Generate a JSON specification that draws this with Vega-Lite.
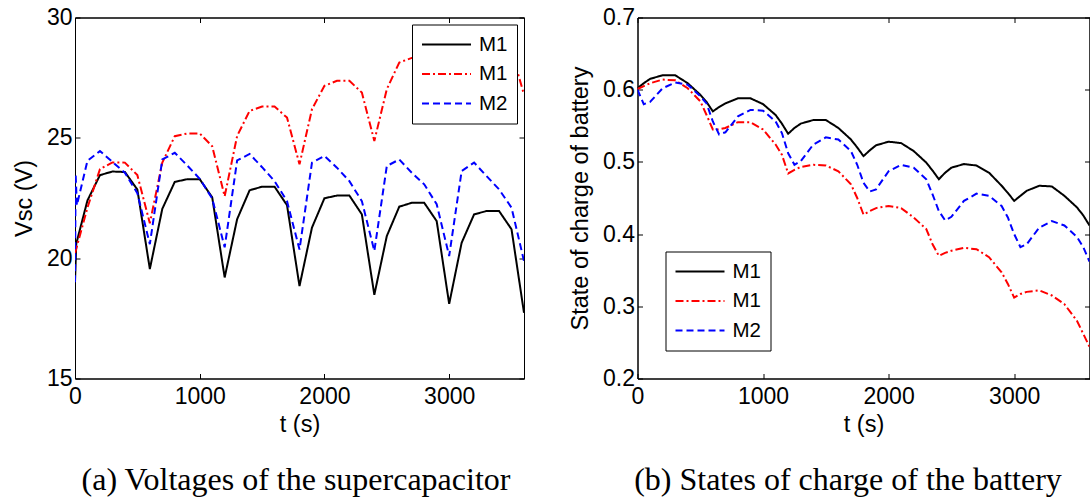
{
  "$schema": "https://vega.github.io/schema/vega-lite/v6.json",
  "background": "white",
  "padding": {"left": 11, "top": 5.5, "right": 0, "bottom": 0},
  "spacing": 42.5,
  "config": {
    "font": "Liberation Sans",
    "view": {"stroke": "black", "strokeWidth": 1},
    "axis": {
      "grid": false,
      "domainColor": "black",
      "tickColor": "black",
      "labelColor": "black",
      "titleColor": "black",
      "labelFont": "Liberation Sans",
      "titleFont": "Liberation Sans",
      "labelFontSize": 23,
      "titleFontSize": 23.5,
      "titleFontWeight": "normal",
      "tickSize": -5,
      "labelFlush": false,
      "labelOverlap": false
    },
    "axisX": {"labelPadding": 12, "titlePadding": 4},
    "axisY": {"labelPadding": 8, "titlePadding": 10},
    "legend": {
      "fillColor": "white",
      "strokeColor": "black",
      "padding": 9,
      "symbolType": "M-1,0H3.9",
      "symbolSize": 400,
      "symbolStrokeWidth": 2,
      "labelFont": "Liberation Sans",
      "labelFontSize": 20.5,
      "labelColor": "black",
      "labelOffset": 36,
      "rowPadding": 7.5,
      "cornerRadius": 0
    }
  },
  "datasets": {
    "vsc": [
      {"t":0,"s":"M1a","v":19.0},{"t":10,"s":"M1a","v":20.6},{"t":100,"s":"M1a","v":22.4},{"t":200,"s":"M1a","v":23.45},{"t":300,"s":"M1a","v":23.6},{"t":400,"s":"M1a","v":23.58},{"t":500,"s":"M1a","v":22.85},{"t":600,"s":"M1a","v":19.55},{"t":700,"s":"M1a","v":22.05},{"t":800,"s":"M1a","v":23.17},{"t":900,"s":"M1a","v":23.28},{"t":1000,"s":"M1a","v":23.28},{"t":1100,"s":"M1a","v":22.53},{"t":1200,"s":"M1a","v":19.2},{"t":1300,"s":"M1a","v":21.62},{"t":1400,"s":"M1a","v":22.82},{"t":1500,"s":"M1a","v":22.97},{"t":1600,"s":"M1a","v":22.97},{"t":1700,"s":"M1a","v":22.2},{"t":1800,"s":"M1a","v":18.84},{"t":1900,"s":"M1a","v":21.27},{"t":2000,"s":"M1a","v":22.49},{"t":2100,"s":"M1a","v":22.6},{"t":2200,"s":"M1a","v":22.6},{"t":2300,"s":"M1a","v":21.82},{"t":2400,"s":"M1a","v":18.48},{"t":2500,"s":"M1a","v":20.92},{"t":2600,"s":"M1a","v":22.14},{"t":2700,"s":"M1a","v":22.3},{"t":2800,"s":"M1a","v":22.3},{"t":2900,"s":"M1a","v":21.54},{"t":3000,"s":"M1a","v":18.1},{"t":3100,"s":"M1a","v":20.64},{"t":3200,"s":"M1a","v":21.82},{"t":3300,"s":"M1a","v":21.96},{"t":3400,"s":"M1a","v":21.96},{"t":3500,"s":"M1a","v":21.2},{"t":3600,"s":"M1a","v":17.73},
      {"t":0,"s":"M1b","v":20.2},{"t":100,"s":"M1b","v":22.1},{"t":200,"s":"M1b","v":23.7},{"t":300,"s":"M1b","v":23.98},{"t":400,"s":"M1b","v":23.97},{"t":500,"s":"M1b","v":23.45},{"t":600,"s":"M1b","v":21.45},{"t":700,"s":"M1b","v":23.97},{"t":800,"s":"M1b","v":25.07},{"t":900,"s":"M1b","v":25.18},{"t":1000,"s":"M1b","v":25.18},{"t":1100,"s":"M1b","v":24.65},{"t":1200,"s":"M1b","v":22.57},{"t":1300,"s":"M1b","v":25.08},{"t":1400,"s":"M1b","v":26.12},{"t":1500,"s":"M1b","v":26.3},{"t":1600,"s":"M1b","v":26.3},{"t":1700,"s":"M1b","v":25.84},{"t":1800,"s":"M1b","v":23.9},{"t":1900,"s":"M1b","v":26.19},{"t":2000,"s":"M1b","v":27.16},{"t":2100,"s":"M1b","v":27.37},{"t":2200,"s":"M1b","v":27.37},{"t":2300,"s":"M1b","v":26.88},{"t":2400,"s":"M1b","v":24.87},{"t":2500,"s":"M1b","v":27.02},{"t":2600,"s":"M1b","v":28.13},{"t":2700,"s":"M1b","v":28.32},{"t":2800,"s":"M1b","v":28.35},{"t":2900,"s":"M1b","v":27.9},{"t":3000,"s":"M1b","v":25.9},{"t":3100,"s":"M1b","v":28.0},{"t":3200,"s":"M1b","v":29.1},{"t":3300,"s":"M1b","v":29.3},{"t":3400,"s":"M1b","v":29.3},{"t":3500,"s":"M1b","v":28.6},{"t":3600,"s":"M1b","v":26.8},
      {"t":0,"s":"M2","v":19.0},{"t":5,"s":"M2","v":23.5},{"t":15,"s":"M2","v":22.2},{"t":100,"s":"M2","v":24.05},{"t":200,"s":"M2","v":24.45},{"t":300,"s":"M2","v":24.0},{"t":400,"s":"M2","v":23.55},{"t":500,"s":"M2","v":22.7},{"t":600,"s":"M2","v":20.58},{"t":700,"s":"M2","v":24.1},{"t":800,"s":"M2","v":24.38},{"t":900,"s":"M2","v":23.85},{"t":1000,"s":"M2","v":23.3},{"t":1100,"s":"M2","v":22.48},{"t":1200,"s":"M2","v":20.45},{"t":1300,"s":"M2","v":24.06},{"t":1400,"s":"M2","v":24.33},{"t":1500,"s":"M2","v":23.78},{"t":1600,"s":"M2","v":23.2},{"t":1700,"s":"M2","v":22.37},{"t":1800,"s":"M2","v":20.36},{"t":1900,"s":"M2","v":23.97},{"t":2000,"s":"M2","v":24.25},{"t":2100,"s":"M2","v":23.76},{"t":2200,"s":"M2","v":23.2},{"t":2300,"s":"M2","v":22.37},{"t":2400,"s":"M2","v":20.3},{"t":2500,"s":"M2","v":23.83},{"t":2600,"s":"M2","v":24.1},{"t":2700,"s":"M2","v":23.55},{"t":2800,"s":"M2","v":23.07},{"t":2900,"s":"M2","v":22.24},{"t":3000,"s":"M2","v":20.09},{"t":3100,"s":"M2","v":23.62},{"t":3200,"s":"M2","v":23.97},{"t":3300,"s":"M2","v":23.41},{"t":3400,"s":"M2","v":22.86},{"t":3500,"s":"M2","v":22.1},{"t":3600,"s":"M2","v":19.88}
    ],
    "soc": [
      {"t":0,"s":"M1a","v":0.602},{"t":50,"s":"M1a","v":0.609},{"t":100,"s":"M1a","v":0.615},{"t":200,"s":"M1a","v":0.62},{"t":300,"s":"M1a","v":0.62},{"t":400,"s":"M1a","v":0.609},{"t":500,"s":"M1a","v":0.593},{"t":550,"s":"M1a","v":0.583},{"t":600,"s":"M1a","v":0.57},{"t":650,"s":"M1a","v":0.576},{"t":700,"s":"M1a","v":0.581},{"t":800,"s":"M1a","v":0.588},{"t":900,"s":"M1a","v":0.588},{"t":1000,"s":"M1a","v":0.58},{"t":1100,"s":"M1a","v":0.565},{"t":1150,"s":"M1a","v":0.553},{"t":1200,"s":"M1a","v":0.539},{"t":1250,"s":"M1a","v":0.547},{"t":1300,"s":"M1a","v":0.553},{"t":1400,"s":"M1a","v":0.558},{"t":1500,"s":"M1a","v":0.558},{"t":1600,"s":"M1a","v":0.547},{"t":1700,"s":"M1a","v":0.531},{"t":1750,"s":"M1a","v":0.52},{"t":1800,"s":"M1a","v":0.508},{"t":1850,"s":"M1a","v":0.516},{"t":1900,"s":"M1a","v":0.523},{"t":2000,"s":"M1a","v":0.528},{"t":2100,"s":"M1a","v":0.526},{"t":2200,"s":"M1a","v":0.515},{"t":2300,"s":"M1a","v":0.499},{"t":2350,"s":"M1a","v":0.488},{"t":2400,"s":"M1a","v":0.476},{"t":2450,"s":"M1a","v":0.485},{"t":2500,"s":"M1a","v":0.492},{"t":2600,"s":"M1a","v":0.497},{"t":2700,"s":"M1a","v":0.495},{"t":2800,"s":"M1a","v":0.485},{"t":2900,"s":"M1a","v":0.467},{"t":2950,"s":"M1a","v":0.457},{"t":3000,"s":"M1a","v":0.446},{"t":3050,"s":"M1a","v":0.453},{"t":3100,"s":"M1a","v":0.46},{"t":3200,"s":"M1a","v":0.467},{"t":3300,"s":"M1a","v":0.466},{"t":3400,"s":"M1a","v":0.453},{"t":3500,"s":"M1a","v":0.437},{"t":3550,"s":"M1a","v":0.426},{"t":3600,"s":"M1a","v":0.412},
      {"t":0,"s":"M1b","v":0.601},{"t":50,"s":"M1b","v":0.605},{"t":100,"s":"M1b","v":0.609},{"t":200,"s":"M1b","v":0.614},{"t":300,"s":"M1b","v":0.613},{"t":400,"s":"M1b","v":0.602},{"t":500,"s":"M1b","v":0.584},{"t":550,"s":"M1b","v":0.565},{"t":600,"s":"M1b","v":0.545},{"t":650,"s":"M1b","v":0.545},{"t":700,"s":"M1b","v":0.547},{"t":800,"s":"M1b","v":0.555},{"t":900,"s":"M1b","v":0.555},{"t":1000,"s":"M1b","v":0.545},{"t":1100,"s":"M1b","v":0.524},{"t":1150,"s":"M1b","v":0.51},{"t":1200,"s":"M1b","v":0.484},{"t":1250,"s":"M1b","v":0.489},{"t":1300,"s":"M1b","v":0.493},{"t":1400,"s":"M1b","v":0.496},{"t":1500,"s":"M1b","v":0.495},{"t":1600,"s":"M1b","v":0.487},{"t":1700,"s":"M1b","v":0.469},{"t":1750,"s":"M1b","v":0.45},{"t":1800,"s":"M1b","v":0.427},{"t":1850,"s":"M1b","v":0.432},{"t":1900,"s":"M1b","v":0.436},{"t":2000,"s":"M1b","v":0.439},{"t":2100,"s":"M1b","v":0.436},{"t":2200,"s":"M1b","v":0.423},{"t":2300,"s":"M1b","v":0.407},{"t":2350,"s":"M1b","v":0.386},{"t":2400,"s":"M1b","v":0.37},{"t":2450,"s":"M1b","v":0.374},{"t":2500,"s":"M1b","v":0.377},{"t":2600,"s":"M1b","v":0.381},{"t":2700,"s":"M1b","v":0.379},{"t":2800,"s":"M1b","v":0.368},{"t":2900,"s":"M1b","v":0.347},{"t":2950,"s":"M1b","v":0.331},{"t":3000,"s":"M1b","v":0.312},{"t":3050,"s":"M1b","v":0.317},{"t":3100,"s":"M1b","v":0.32},{"t":3200,"s":"M1b","v":0.322},{"t":3300,"s":"M1b","v":0.315},{"t":3400,"s":"M1b","v":0.303},{"t":3500,"s":"M1b","v":0.28},{"t":3550,"s":"M1b","v":0.262},{"t":3600,"s":"M1b","v":0.244},
      {"t":0,"s":"M2","v":0.6},{"t":50,"s":"M2","v":0.58},{"t":100,"s":"M2","v":0.583},{"t":200,"s":"M2","v":0.602},{"t":300,"s":"M2","v":0.61},{"t":400,"s":"M2","v":0.607},{"t":500,"s":"M2","v":0.591},{"t":550,"s":"M2","v":0.581},{"t":600,"s":"M2","v":0.556},{"t":650,"s":"M2","v":0.538},{"t":700,"s":"M2","v":0.541},{"t":800,"s":"M2","v":0.563},{"t":900,"s":"M2","v":0.572},{"t":1000,"s":"M2","v":0.571},{"t":1100,"s":"M2","v":0.556},{"t":1150,"s":"M2","v":0.54},{"t":1200,"s":"M2","v":0.512},{"t":1250,"s":"M2","v":0.496},{"t":1300,"s":"M2","v":0.501},{"t":1400,"s":"M2","v":0.524},{"t":1500,"s":"M2","v":0.534},{"t":1600,"s":"M2","v":0.531},{"t":1700,"s":"M2","v":0.515},{"t":1750,"s":"M2","v":0.496},{"t":1800,"s":"M2","v":0.471},{"t":1850,"s":"M2","v":0.459},{"t":1900,"s":"M2","v":0.462},{"t":2000,"s":"M2","v":0.487},{"t":2100,"s":"M2","v":0.496},{"t":2200,"s":"M2","v":0.492},{"t":2300,"s":"M2","v":0.476},{"t":2350,"s":"M2","v":0.455},{"t":2400,"s":"M2","v":0.432},{"t":2450,"s":"M2","v":0.419},{"t":2500,"s":"M2","v":0.424},{"t":2600,"s":"M2","v":0.446},{"t":2700,"s":"M2","v":0.456},{"t":2800,"s":"M2","v":0.453},{"t":2900,"s":"M2","v":0.439},{"t":2950,"s":"M2","v":0.423},{"t":3000,"s":"M2","v":0.4},{"t":3050,"s":"M2","v":0.382},{"t":3100,"s":"M2","v":0.386},{"t":3200,"s":"M2","v":0.409},{"t":3300,"s":"M2","v":0.418},{"t":3400,"s":"M2","v":0.412},{"t":3500,"s":"M2","v":0.396},{"t":3550,"s":"M2","v":0.382},{"t":3600,"s":"M2","v":0.362}
    ]
  },
  "hconcat": [
    {
      "width": 449,
      "height": 361,
      "title": {"text": "(a) Voltages of the supercapacitor", "orient": "bottom", "anchor": "middle", "font": "Liberation Serif", "fontSize": 32, "fontWeight": "normal", "color": "black", "offset": 29, "dx": -3.5},
      "data": {"name": "vsc"},
      "layer": [
        {
          "mark": {"type": "line", "strokeWidth": 2, "clip": true},
          "encoding": {
            "x": {"field": "t", "type": "quantitative", "scale": {"domain": [0, 3600], "nice": false}, "axis": {"title": "t (s)", "values": [0, 1000, 2000, 3000], "format": "d"}},
            "y": {"field": "v", "type": "quantitative", "scale": {"domain": [15, 30], "nice": false, "zero": false}, "axis": {"title": "Vsc (V)", "values": [15, 20, 25, 30], "format": "d"}},
            "color": {"field": "s", "type": "nominal", "scale": {"domain": ["M1a", "M1b", "M2"], "range": ["#000000", "#ff0000", "#0000ff"]}, "legend": {"title": null, "orient": "top-right", "offset": 7, "labelExpr": "substring(datum.label, 0, 2)"}},
            "strokeDash": {"field": "s", "type": "nominal", "scale": {"domain": ["M1a", "M1b", "M2"], "range": [[1, 0], [8, 3, 2, 3], [7, 4]]}, "legend": {"title": null, "orient": "top-right", "offset": 7, "labelExpr": "substring(datum.label, 0, 2)"}}
          }
        },
        {
          "data": {"values": [{"t": 0, "v": 15}]},
          "mark": {"type": "rule", "opacity": 0},
          "encoding": {
            "x": {"field": "t", "type": "quantitative", "axis": {"orient": "top", "labels": false, "title": null, "values": [0, 1000, 2000, 3000]}},
            "y": {"field": "v", "type": "quantitative", "axis": {"orient": "right", "labels": false, "title": null, "values": [15, 20, 25, 30]}}
          }
        }
      ],
      "resolve": {"axis": {"x": "independent", "y": "independent"}}
    },
    {
      "width": 452,
      "height": 361,
      "title": {"text": "(b) States of charge of the battery", "orient": "bottom", "anchor": "middle", "font": "Liberation Serif", "fontSize": 32, "fontWeight": "normal", "color": "black", "offset": 29, "dx": -15.5},
      "data": {"name": "soc"},
      "layer": [
        {
          "mark": {"type": "line", "strokeWidth": 2, "clip": true},
          "encoding": {
            "x": {"field": "t", "type": "quantitative", "scale": {"domain": [0, 3600], "nice": false}, "axis": {"title": "t (s)", "values": [0, 1000, 2000, 3000], "format": "d"}},
            "y": {"field": "v", "type": "quantitative", "scale": {"domain": [0.2, 0.7], "nice": false, "zero": false}, "axis": {"title": "State of charge of battery", "values": [0.2, 0.3, 0.4, 0.5, 0.6, 0.7], "format": ".1f"}},
            "color": {"field": "s", "type": "nominal", "scale": {"domain": ["M1a", "M1b", "M2"], "range": ["#000000", "#ff0000", "#0000ff"]}, "legend": {"title": null, "orient": "bottom-left", "offset": 28, "labelExpr": "substring(datum.label, 0, 2)"}},
            "strokeDash": {"field": "s", "type": "nominal", "scale": {"domain": ["M1a", "M1b", "M2"], "range": [[1, 0], [8, 3, 2, 3], [7, 4]]}, "legend": {"title": null, "orient": "bottom-left", "offset": 28, "labelExpr": "substring(datum.label, 0, 2)"}}
          }
        },
        {
          "data": {"values": [{"t": 0, "v": 0.2}]},
          "mark": {"type": "rule", "opacity": 0},
          "encoding": {
            "x": {"field": "t", "type": "quantitative", "axis": {"orient": "top", "labels": false, "title": null, "values": [0, 1000, 2000, 3000]}},
            "y": {"field": "v", "type": "quantitative", "axis": {"orient": "right", "labels": false, "title": null, "values": [0.2, 0.3, 0.4, 0.5, 0.6, 0.7]}}
          }
        }
      ],
      "resolve": {"axis": {"x": "independent", "y": "independent"}}
    }
  ]
}
